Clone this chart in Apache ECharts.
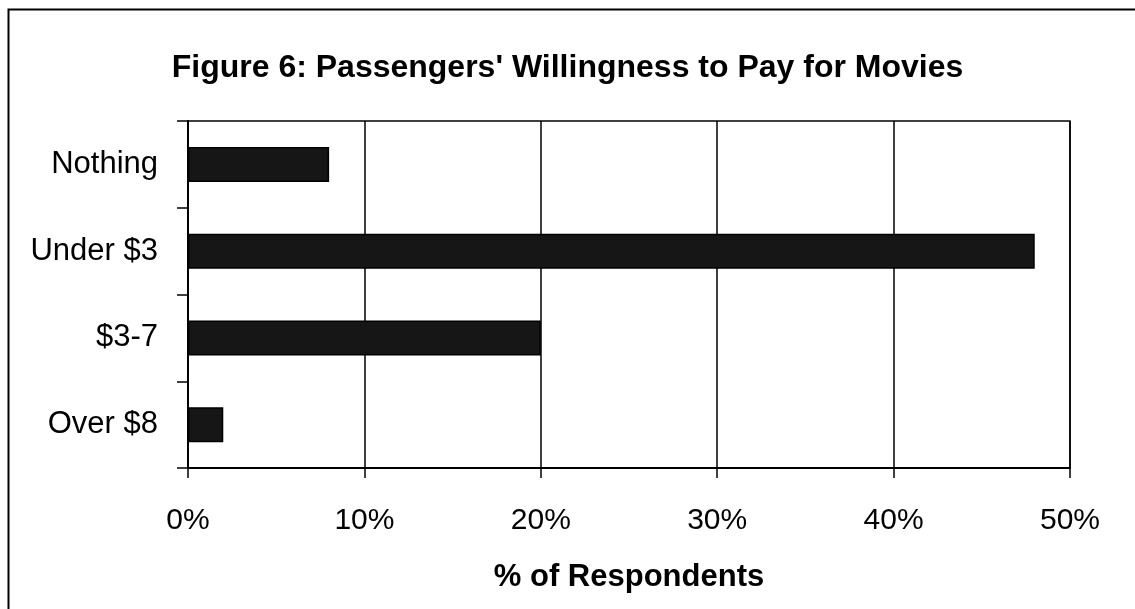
<!DOCTYPE html>
<html>
<head>
<meta charset="utf-8">
<script src="https://cdn.jsdelivr.net/npm/echarts@6/dist/echarts.min.js"></script>
<style>html,body{margin:0;padding:0;background:#fff}#c{width:1135px;height:609px}</style>
</head>
<body>
<div id="c"></div>
<script>
const categories = ['Nothing', 'Under $3', '$3-7', 'Over $8'];
const values = [8, 48, 20, 2];
const xTicks = [0, 10, 20, 30, 40, 50];

const chart = echarts.init(document.getElementById('c'));
const font = '"Liberation Sans", Arial, sans-serif';
chart.setOption({
  backgroundColor: '#ffffff',
  animation: false,
  title: {
    text: "Figure 6: Passengers' Willingness to Pay for Movies",
    left: 'center',
    top: 47,
    textStyle: { fontFamily: font, fontSize: 32, fontWeight: 'bold', color: '#000' }
  },
  graphic: [{
    type: 'rect',
    shape: { x: 8.5, y: 9.5, width: 1140, height: 620 },
    style: { fill: 'none', stroke: '#000', lineWidth: 2 },
    silent: true
  }],
  grid: {
    left: 188, right: 65, top: 121, bottom: 141,
    show: true, borderColor: '#000', borderWidth: 1.5, backgroundColor: 'transparent'
  },
  xAxis: {
    type: 'value',
    min: xTicks[0], max: xTicks[xTicks.length - 1], interval: 10,
    name: '% of Respondents',
    nameLocation: 'middle',
    nameGap: 94,
    nameTextStyle: { fontFamily: font, fontSize: 31, fontWeight: 'bold', color: '#000' },
    axisLine: { show: true, lineStyle: { color: '#000', width: 2 } },
    axisTick: { show: true, length: 10, lineStyle: { color: '#000', width: 1.5 } },
    axisLabel: { margin: 38, fontFamily: font, fontSize: 30, color: '#000', formatter: '{value}%' },
    splitLine: { show: true, lineStyle: { color: '#000', width: 1.5 } }
  },
  yAxis: {
    type: 'category',
    data: categories,
    inverse: true,
    axisLine: { show: true, lineStyle: { color: '#000', width: 2 } },
    axisTick: { show: true, length: 11, alignWithLabel: false, lineStyle: { color: '#000', width: 1.5 } },
    axisLabel: { margin: 30, fontFamily: font, fontSize: 31, color: '#000' },
    splitLine: { show: false }
  },
  series: [{
    type: 'bar',
    data: values,
    barWidth: 35,
    itemStyle: { color: '#161616', borderColor: '#000', borderWidth: 1.5 }
  }]
});
</script>
</body>
</html>
